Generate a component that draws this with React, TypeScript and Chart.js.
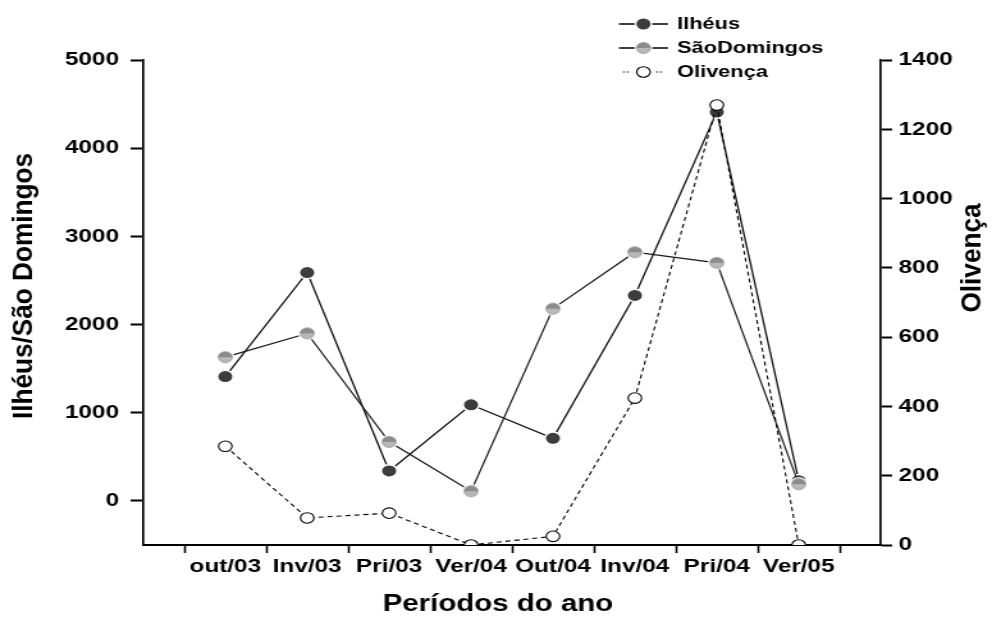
import React, { useEffect, useRef } from 'react';
import { Chart, registerables } from 'chart.js';

Chart.register(...registerables);

// ---- data ----
const categories = ['out/03', 'Inv/03', 'Pri/03', 'Ver/04', 'Out/04', 'Inv/04', 'Pri/04', 'Ver/05'];
const ilheus = [1410, 2590, 340, 1090, 710, 2330, 4410, 230];
const saoDomingos = [1630, 1900, 670, 110, 2180, 2820, 2700, 190];
const olivenca = [285, 78, 92, 0, 25, 424, 1270, 0];
const leftTicks = [0, 1000, 2000, 3000, 4000, 5000];
const rightTicks = [0, 200, 400, 600, 800, 1000, 1200, 1400];
const seriesNames = ['Ilhéus', 'SãoDomingos', 'Olivença'];
const leftTitle = 'Ilhéus/São Domingos';
const rightTitle = 'Olivença';
const xTitle = 'Períodos do ano';

// ---- layout (internal canvas is stretched horizontally by CSS) ----
const W = 775;
const H = 618;
const CSS_W = 992;
const FONT = '"Liberation Sans", Arial, Helvetica, sans-serif';

const xTickValues: number[] = [];
for (let i = 0; i <= categories.length; i++) {
  xTickValues.push(i + 0.5);
  if (i < categories.length) xTickValues.push(i + 1);
}
xTickValues.sort((a, b) => a - b);

function toPoints(values: number[]) {
  return categories.map((_, i) => ({ x: i + 1, y: values[i] }));
}

function makeGrayMarker(r: number, ring: number) {
  const size = Math.ceil((r + ring) * 2) + 2;
  const c = document.createElement('canvas');
  c.width = size;
  c.height = size;
  const g = c.getContext('2d') as CanvasRenderingContext2D;
  const cx = size / 2;
  const cy = size / 2;
  g.fillStyle = '#ffffff';
  g.beginPath();
  g.arc(cx, cy, r + ring, 0, Math.PI * 2);
  g.fill();
  g.save();
  g.beginPath();
  g.arc(cx, cy, r, 0, Math.PI * 2);
  g.clip();
  g.fillStyle = '#8c8c8c';
  g.fillRect(0, 0, size, cy);
  g.fillStyle = '#b8b8b8';
  g.fillRect(0, cy, size, size - cy);
  g.restore();
  g.strokeStyle = '#888888';
  g.lineWidth = 0.6;
  g.beginPath();
  g.arc(cx, cy, r, 0, Math.PI * 2);
  g.stroke();
  return c;
}

function drawRotated(ctx: CanvasRenderingContext2D, text: string, x: number, y: number, lenScale: number) {
  ctx.save();
  ctx.translate(x, y);
  ctx.rotate(-Math.PI / 2);
  ctx.scale(lenScale, 1);
  ctx.fillText(text, 0, 0);
  ctx.restore();
}

export default function App() {
  const ref = useRef<HTMLCanvasElement | null>(null);

  useEffect(() => {
    const canvas = ref.current;
    if (!canvas) return;
    const grayImg = makeGrayMarker(5.5, 1.5);

    const decor = {
      id: 'decor',
      afterDraw(chart: any) {
        const ctx: CanvasRenderingContext2D = chart.ctx;
        ctx.save();
        ctx.fillStyle = '#000';
        ctx.textAlign = 'center';
        ctx.textBaseline = 'middle';
        ctx.font = `bold 22px ${FONT}`;
        drawRotated(ctx, leftTitle, 19, 286, 1.19);
        drawRotated(ctx, rightTitle, 760, 258, 1.19);
        ctx.font = `bold 23px ${FONT}`;
        ctx.fillText(xTitle, 389, 605);

        // legend
        const x0 = 483.6;
        const x1 = 521.9;
        const cx = 502.7;
        const tx = 529;
        const rows = [24, 48, 72];
        ctx.strokeStyle = '#000';
        // Ilhéus
        ctx.lineWidth = 1.4;
        ctx.setLineDash([]);
        ctx.beginPath();
        ctx.moveTo(x0, rows[0]);
        ctx.lineTo(x1, rows[0]);
        ctx.stroke();
        ctx.beginPath();
        ctx.arc(cx, rows[0], 6.2, 0, Math.PI * 2);
        ctx.fillStyle = '#3c3c3c';
        ctx.fill();
        ctx.strokeStyle = '#fff';
        ctx.lineWidth = 1.4;
        ctx.stroke();
        // São Domingos
        ctx.strokeStyle = '#000';
        ctx.lineWidth = 1.3;
        ctx.beginPath();
        ctx.moveTo(x0, rows[1]);
        ctx.lineTo(x1, rows[1]);
        ctx.stroke();
        ctx.drawImage(grayImg, cx - grayImg.width / 2, rows[1] - grayImg.height / 2);
        // Olivença
        ctx.lineWidth = 1;
        ctx.setLineDash([1.5, 1.5]);
        ctx.beginPath();
        ctx.moveTo(cx - 16, rows[2]);
        ctx.lineTo(cx - 10, rows[2]);
        ctx.moveTo(cx + 10, rows[2]);
        ctx.lineTo(cx + 16, rows[2]);
        ctx.stroke();
        ctx.setLineDash([]);
        ctx.beginPath();
        ctx.arc(cx, rows[2], 5.3, 0, Math.PI * 2);
        ctx.fillStyle = '#fff';
        ctx.fill();
        ctx.lineWidth = 1.1;
        ctx.strokeStyle = '#000';
        ctx.stroke();

        ctx.fillStyle = '#000';
        ctx.textAlign = 'left';
        ctx.font = `bold 17px ${FONT}`;
        seriesNames.forEach((n, i) => ctx.fillText(n, tx, rows[i]));
        ctx.restore();
      },
    };

    const tickFont = { family: FONT, size: 19, weight: 'bold' as const };

    const chart = new Chart(canvas, {
      type: 'line',
      data: {
        datasets: [
          {
            label: seriesNames[0],
            data: toPoints(ilheus),
            yAxisID: 'y',
            borderColor: '#111',
            borderWidth: 1.3,
            pointRadius: 6.2,
            pointBackgroundColor: '#3c3c3c',
            pointBorderColor: '#fff',
            pointBorderWidth: 1.4,
            order: 3,
          },
          {
            label: seriesNames[1],
            data: toPoints(saoDomingos),
            yAxisID: 'y',
            borderColor: '#1a1a1a',
            borderWidth: 1.2,
            pointStyle: grayImg as any,
            pointRadius: 6,
            order: 2,
          },
          {
            label: seriesNames[2],
            data: toPoints(olivenca),
            yAxisID: 'y2',
            borderColor: '#000',
            borderWidth: 1.1,
            borderDash: [4, 3],
            pointRadius: 5.3,
            pointBackgroundColor: '#fff',
            pointBorderColor: '#000',
            pointBorderWidth: 1.1,
            order: 1,
            clip: 0 as any,
          },
        ] as any,
      },
      options: {
        responsive: false,
        devicePixelRatio: 1,
        animation: false,
        events: [],
        layout: { padding: { top: 60, left: 0, right: 0, bottom: 0 } },
        plugins: {
          legend: { display: false },
          tooltip: { enabled: false },
          title: { display: false },
        },
        scales: {
          x: {
            type: 'linear',
            min: 0,
            max: categories.length + 1,
            afterBuildTicks: (s: any) => {
              s.ticks = xTickValues.map((v) => ({ value: v }));
            },
            afterFit: (s: any) => {
              s.height = 73;
            },
            ticks: {
              autoSkip: false,
              maxRotation: 0,
              minRotation: 0,
              padding: 2,
              color: '#000',
              font: tickFont,
              callback: (v: any) => (Number.isInteger(v) ? categories[v - 1] : ''),
            },
            grid: {
              drawOnChartArea: false,
              drawTicks: true,
              tickLength: 8,
              tickWidth: 1.6,
              tickColor: (c: any) => (c.tick && Number.isInteger(c.tick.value) ? 'rgba(0,0,0,0)' : '#000'),
            },
            border: { display: true, color: '#000', width: 2 },
          },
          y: {
            type: 'linear',
            position: 'left',
            min: -500,
            max: 5000,
            afterBuildTicks: (s: any) => {
              s.ticks = leftTicks.map((v) => ({ value: v }));
            },
            afterFit: (s: any) => {
              s.width = 112;
            },
            ticks: {
              padding: 9,
              color: '#000',
              font: tickFont,
              callback: (v: any) => String(v),
            },
            grid: { drawOnChartArea: false, tickLength: 10, tickWidth: 2, tickColor: '#000' },
            border: { display: true, color: '#000', width: 1.7 },
          },
          y2: {
            type: 'linear',
            position: 'right',
            min: 0,
            max: 1400,
            afterBuildTicks: (s: any) => {
              s.ticks = rightTicks.map((v) => ({ value: v }));
            },
            afterFit: (s: any) => {
              s.width = 87;
            },
            ticks: {
              padding: 5,
              color: '#000',
              font: tickFont,
              callback: (v: any) => String(v),
            },
            grid: { drawOnChartArea: false, tickLength: 9, tickWidth: 2, tickColor: '#000' },
            border: { display: true, color: '#000', width: 1.7 },
          },
        },
      } as any,
      plugins: [decor],
    });

    return () => {
      chart.destroy();
    };
  }, []);

  return (
    <div style={{ position: 'absolute', left: 0, top: 0, width: CSS_W, height: H, overflow: 'hidden', background: '#fff' }}>
      <canvas
        ref={ref}
        width={W}
        height={H}
        style={{ width: `${CSS_W}px`, height: `${H}px`, display: 'block' }}
      />
    </div>
  );
}
